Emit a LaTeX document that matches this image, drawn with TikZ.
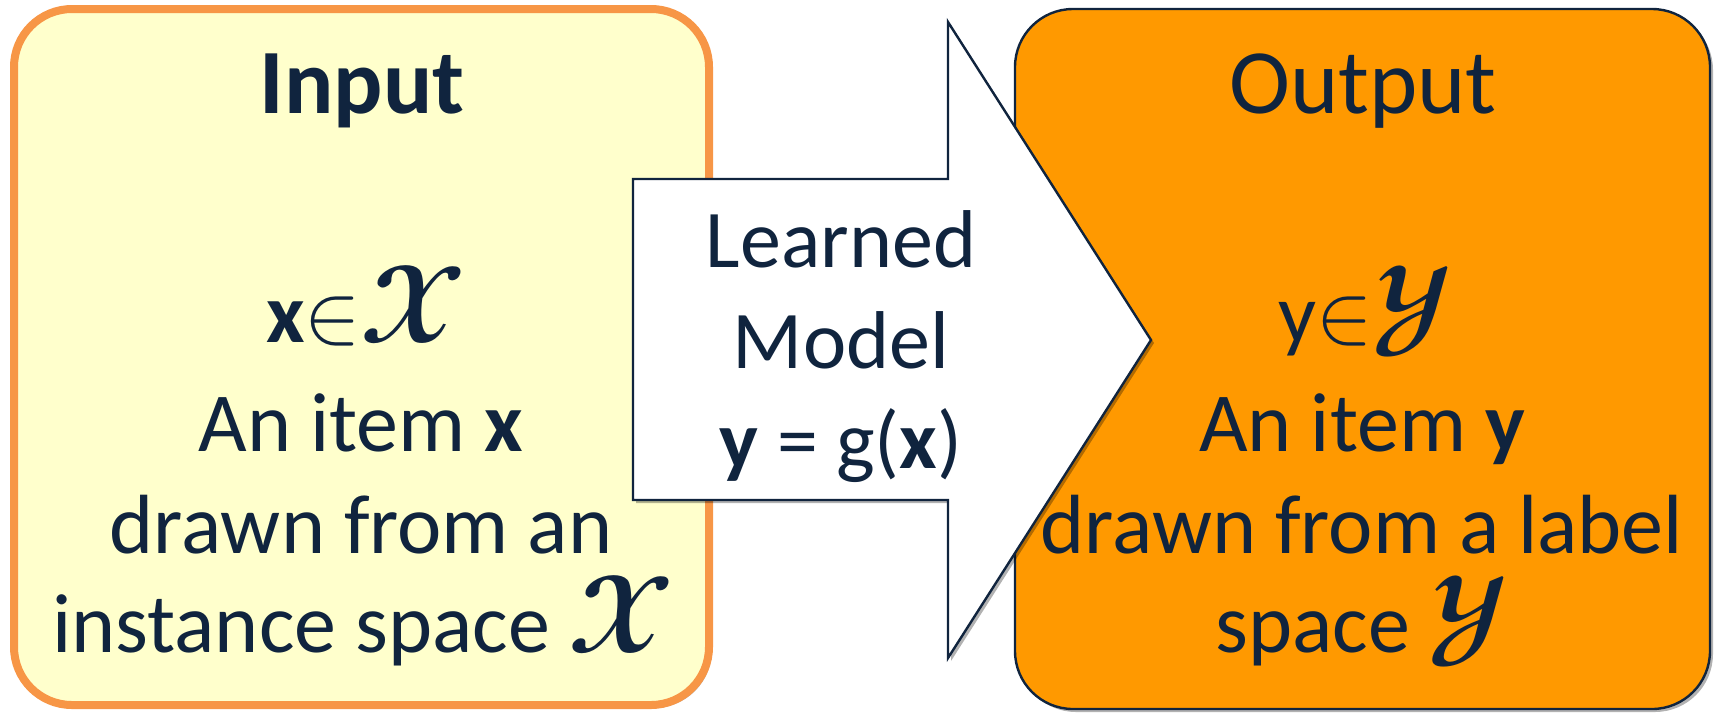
\documentclass[tikz,border=0pt]{standalone}
\usepackage{fontspec}
\usepackage{unicode-math}
\setmainfont{Carlito}
\setmathfont{Latin Modern Math}
\usetikzlibrary{shadows}
\definecolor{navy}{HTML}{10243E}
\definecolor{inyellow}{HTML}{FFFFCC}
\definecolor{inorange}{HTML}{F79646}
\definecolor{outorange}{HTML}{FF9900}
\newcommand{\scrX}{{\fontsize{54}{54}\selectfont$\mathbfscr{X}$}}
\newcommand{\scrY}{{\fontsize{54}{54}\selectfont$\mathbfscr{Y}$}}
\tikzset{
  txt/.style={text=navy, font=\fontsize{42}{50}\selectfont, inner sep=0pt, anchor=base},
  arrtxt/.style={text=navy, font=\fontsize{41}{50}\selectfont, inner sep=0pt, anchor=base},
  ttl/.style={text=navy, font=\fontsize{46}{55}\selectfont, inner sep=0pt, anchor=base},
  softshadow/.style={drop shadow={shadow xshift=1.5pt, shadow yshift=-1.5pt, opacity=0.3, fill=black}},
  inbox/.style={draw=inorange, line width=4pt, fill=inyellow, rounded corners=29pt, softshadow},
  outbox/.style={draw=navy, line width=1.2pt, fill=outorange, rounded corners=29pt, softshadow},
  arrowbody/.style={draw=navy, line width=1.2pt, fill=white, line join=miter, softshadow},
}
\begin{document}
\begin{tikzpicture}[x=0.5pt,y=-0.5pt]
\useasboundingbox (0,0) rectangle (1715,714);
% input box
\draw[inbox] (14,9) rectangle (709,705);
% output box
\draw[outbox] (1015,9) rectangle (1710,709);
% arrow
\draw[arrowbody] (633,179) -- (948,179) -- (948,22) -- (1151,340) -- (948,658) -- (948,500) -- (633,500) -- cycle;
% input texts
\node[ttl, font=\fontsize{46}{55}\selectfont\bfseries] (intitle) at (362,113) {Input};
\node[txt] (inset) at (366,342) {{\bfseries x}$\in$\scrX};
\node[txt] (inl1) at (361,451) {An item {\bfseries x}};
\node[txt] (inl2) at (361,553) {drawn from an};
\node[txt] (inl3) at (363,652) {instance space \scrX};
% output texts
\node[ttl] (outtitle) at (1363,113) {Output};
\node[txt] (outset) at (1365,342) {y$\in$\scrY};
\node[txt] (outl1) at (1362,451) {An item {\bfseries y}};
\node[txt] (outl2) at (1362,553) {drawn from a label};
\node[txt] (outl3) at (1362,652) {space \scrY};
% arrow texts
\node[arrtxt] (m1) at (841,267) {Learned};
\node[arrtxt] (m2) at (841,368) {Model};
\node[arrtxt] (m3) at (841,468) {{\bfseries y} = g({\bfseries x})};
\end{tikzpicture}
\end{document}
